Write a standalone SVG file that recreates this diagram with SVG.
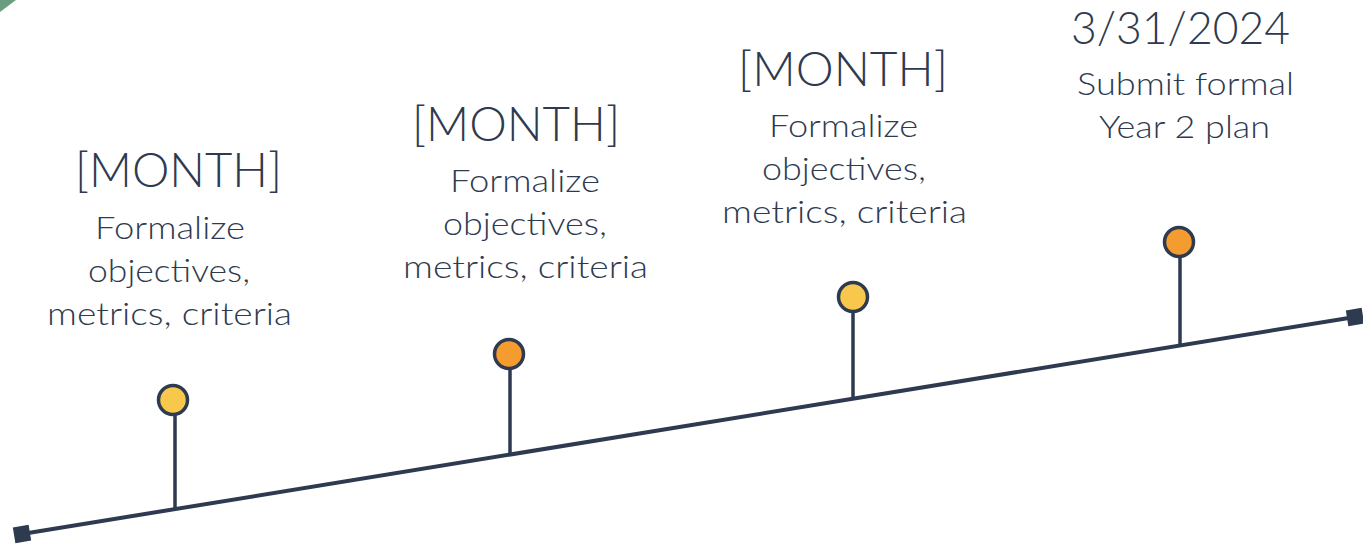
<svg xmlns="http://www.w3.org/2000/svg" width="1363" height="547" viewBox="0 0 1363 547">
<style>
.t{font-family:Lato,"Open Sans","Liberation Sans",sans-serif;fill:#2E3A4F;font-weight:300}
.h{font-size:48px}
.b{font-size:31px}
.stem{stroke:#2E3A4F;stroke-width:3.5}
.pin{stroke:#2E3A4F;stroke-width:3.5}
.y{fill:#F8C84C}
.o{fill:#F59C30}
.end{fill:#2E3A4F}
</style>
<rect width="1363" height="547" fill="#ffffff"/>
<polygon points="0,0 16,0 0,12" fill="#6A9E80"/>
<g id="connectors">
<line x1="22" y1="534" x2="1355" y2="317" stroke="#2E3A4F" stroke-width="4"/>
<rect class="end" x="-8" y="-8" width="16" height="16" transform="translate(22 534) rotate(-9.25)"/>
<rect class="end" x="-8" y="-8" width="16" height="16" transform="translate(1355 317) rotate(-9.25)"/>
<line class="stem" x1="175" y1="416" x2="175" y2="509"/>
<line class="stem" x1="510" y1="370" x2="510" y2="455"/>
<line class="stem" x1="853" y1="313" x2="853" y2="399"/>
<line class="stem" x1="1180" y1="258" x2="1180" y2="346"/>
</g>
<g id="node1">
<circle class="pin y" cx="173" cy="400" r="14.5"/>
<text class="t h" x="75" y="187" textLength="207" lengthAdjust="spacingAndGlyphs">[MONTH]</text>
<text class="t b" x="95" y="239" textLength="150" lengthAdjust="spacingAndGlyphs">Formalize</text>
<text class="t b" x="88" y="282" textLength="162" lengthAdjust="spacingAndGlyphs">objectives,</text>
<text class="t b" x="47" y="325" textLength="245" lengthAdjust="spacingAndGlyphs">metrics, criteria</text>
</g>
<g id="node2">
<circle class="pin o" cx="509" cy="354" r="14.5"/>
<text class="t h" x="412" y="141" textLength="208" lengthAdjust="spacingAndGlyphs">[MONTH]</text>
<text class="t b" x="450" y="192" textLength="150" lengthAdjust="spacingAndGlyphs">Formalize</text>
<text class="t b" x="443" y="235" textLength="164" lengthAdjust="spacingAndGlyphs">objectives,</text>
<text class="t b" x="403" y="278" textLength="245" lengthAdjust="spacingAndGlyphs">metrics, criteria</text>
</g>
<g id="node3">
<circle class="pin y" cx="853" cy="297" r="14.5"/>
<text class="t h" x="738" y="86" textLength="210" lengthAdjust="spacingAndGlyphs">[MONTH]</text>
<text class="t b" x="769" y="137" textLength="149" lengthAdjust="spacingAndGlyphs">Formalize</text>
<text class="t b" x="762" y="180" textLength="164" lengthAdjust="spacingAndGlyphs">objectives,</text>
<text class="t b" x="722" y="223" textLength="245" lengthAdjust="spacingAndGlyphs">metrics, criteria</text>
</g>
<g id="node4">
<circle class="pin o" cx="1179" cy="242" r="14.5"/>
<text class="t" style="font-size:46px" x="1071" y="44" textLength="219" lengthAdjust="spacingAndGlyphs">3/31/2024</text>
<text class="t b" x="1077" y="95" textLength="217" lengthAdjust="spacingAndGlyphs">Submit formal</text>
<text class="t b" x="1099" y="138" textLength="171" lengthAdjust="spacingAndGlyphs">Year 2 plan</text>
</g>
</svg>
